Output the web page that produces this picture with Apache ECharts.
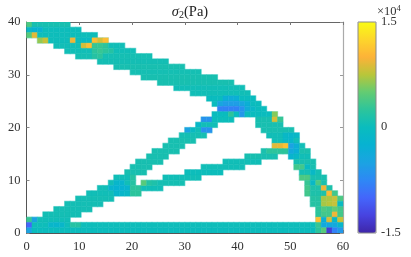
<!DOCTYPE html>
<html><head><meta charset="utf-8">
<style>html,body{margin:0;padding:0;background:#fff}#c{width:411px;height:257px}</style>
<script src="https://cdn.jsdelivr.net/npm/echarts@6/dist/echarts.min.js"></script>
</head><body><div id="c"></div>
<script>
const xCells = 58;
const xTicks = [0,10,20,30,40,50,60];
const yTicks = [0,10,20,30,40];
const barTicks = ['1.5','0','-1.5'];
// [row, firstCol, endCol, baseValue] (x10^4 Pa)
const topStrut = [[39,0,8,.1],[38,0,10,.02],[37,0,13,.03],[36,2,15,.03],[35,5,18,.05],[34,7,20,.05],[33,9,23,.08],
 [32,13,26,.07],[31,16,29,.1],[30,19,32,.08],[29,21,35,.1],[28,24,38,.1],[27,27,40,.05],[26,30,41,.05],[25,33,42,.0],
 [24,34,43,.0],[23,35,44,.0],[22,34,46,.0],[21,42,47,.1],[20,42,47,.1]];
const rightStrut = [[19,43,49,.1],[18,44,50,.05],[17,45,50,.05],[16,45,51,.05],[15,43,52,.12],[14,48,52,.05],[13,49,53,.1],
 [12,49,53,.1],[11,50,54,.08],[10,50,55,.1],[9,51,55,.12],[8,51,56,.15],[7,51,57,.15],[6,52,58,.2],[5,52,58,.2],
 [4,53,58,.25],[3,53,58,.25],[2,53,58,.25]];
const diagonal = [[21,32,38,.02],[20,31,35,.05],[19,29,34,.05],[18,28,33,.08],[17,26,31,.1],[16,25,29,.1],[15,23,28,.1],
 [14,22,26,.1],[13,20,25,.1],[12,19,23,.1],[11,18,22,.1],[10,16,20,.05],[9,15,20,.05],[8,13,25,.05],[7,11,21,.05],
 [6,9,16,.07],[5,7,14,.07],[4,5,12,.07],[3,3,10,.07],[2,0,8,.05]];
const lowerStrut = [[14,40,46,.1],[13,36,43,.05],[12,32,40,.05],[11,29,36,.02],[10,25,32,.05],[9,21,29,.08]];
const bottomChord = [[1,0,58,.03],[0,0,58,.01]];
// [col, row, value]
const cellOverrides = [[0,39,.4],[0,38,-.1],[1,38,-.22],[2,38,-.2],[0,37,.45],[1,37,.9],[2,36,.65],[3,36,.8],[8,36,.95],
 [10,36,-.05],[11,36,-.05],[12,36,1.08],[13,36,.85],[14,36,1.08],[10,35,.85],[11,35,1.08],[12,35,.3],[13,35,.3],[14,35,.25],
 [12,34,.25],[13,34,.3],[14,34,.25],[15,34,.2],[12,33,.2],[13,33,.25],
 [36,25,-.3],[37,25,-.35],[38,25,-.3],[35,24,-.45],[36,24,-.55],[37,24,-.55],[38,24,-.55],[39,24,-.45],[40,24,-.3],
 [35,23,-.8],[36,23,-.8],[37,23,-.8],[38,23,-.8],[39,23,-.65],[40,23,-.35],[41,23,-.1],[39,22,-.6],[37,22,.25],[45,22,.6],
 [45,21,.85],[46,21,.3],[32,21,-.65],[33,21,-.65],[29,19,-.5],[30,19,-.05],[32,19,-.65],[33,19,-.65],[31,20,-.1],
 [47,18,-.1],[48,18,-.15],[49,18,-.1],[47,17,-.1],[48,17,-.15],[45,16,.9],[46,16,.92],[47,16,1.1],[48,16,-.5],[49,16,-.3],
 [48,15,-.4],[49,15,-.3],[44,15,.25],[45,15,.25],[46,15,.25],[47,15,.25],[48,14,-.2],[49,14,-.1],
 [49,12,.35],[50,12,.35],[51,12,-.05],[52,11,-.1],[50,10,.4],[51,10,.4],[51,9,.3],[52,9,-.1],[53,9,.4],
 [51,8,.35],[54,8,.95],[51,7,.35],[55,7,1.05],[56,7,.35],[54,6,.7],[55,6,.72],[56,6,.8],[57,6,.4],
 [54,5,.7],[55,5,.75],[56,5,.8],[57,5,-.05],[54,4,.4],[55,4,.35],[56,4,.5],[57,4,.35],[56,3,.95],[54,3,.35],[55,3,.35],[57,3,.35],
 [53,2,1.1],[54,2,-.3],[55,2,.85],[56,2,-.1],[57,2,.8],[53,1,.3],[54,1,-.4],[55,1,-.42],[56,1,-.4],[57,1,-.15],
 [53,0,.25],[54,0,.45],[55,0,-1.3],[56,0,-.8],[57,0,-.6],
 [0,2,.3],[1,2,-.5],[0,1,-1.0],[4,1,-.15],[5,1,-.18],[6,1,-.15],[8,1,.2],[9,1,.2],[0,0,-.5],
 [19,10,.2],[16,9,-.15],[17,9,-.2],[18,9,.05],[19,9,.2],[15,8,-.2],[16,8,-.25],[17,8,-.25],[18,8,-.2],[19,8,.25],[20,8,.25],
 [16,7,-.15],[17,7,-.15],[18,7,-.1],[19,7,.25],[20,7,.25],[21,9,.45],[22,9,.2],[23,9,.15]];

const parula = ['#3e26a8','#4743e0','#4466fb','#2e88f5','#1ba3e2','#07b2d2','#0abcbe','#2cc49c','#62cc73','#b8c63a','#fdb238','#fdd62b','#f9fb15'];

const grid = new Map();
[topStrut, rightStrut, diagonal, lowerStrut, bottomChord].forEach(list => list.forEach(([r,a,b,v]) => {
  for (let c=a;c<b;c++) grid.set(c+'_'+r, [c,r,v]);
}));
cellOverrides.forEach(([c,r,v]) => grid.set(c+'_'+r,[c,r,v]));
const cw = 60/xCells;
const cells = [...grid.values()].map(([c,r,v]) => [c*cw,(c+1)*cw,r,r+1,v]);

const serif = '"Liberation Serif","DejaVu Serif",serif';
const chart = echarts.init(document.getElementById('c'),null,{renderer:'canvas'});
const lab = {fontFamily:serif,fontSize:12.5,color:'#333'};
const xBase = {type:'value',min:0,max:60,interval:10,splitLine:{show:false}};
const yBase = {type:'value',min:0,max:40,interval:10,splitLine:{show:false}};
const cellBox = (api) => {
  const p0=api.coord([api.value(0),api.value(3)]), p1=api.coord([api.value(1),api.value(2)]);
  return {x:p0[0],y:p0[1],width:p1[0]-p0[0],height:p1[1]-p0[1]};
};
chart.setOption({
  animation:false,
  title:{text:'{i|σ}{s|2}{t|(Pa)}',left:185,top:0,textAlign:'center',
    textStyle:{fontWeight:'normal',rich:{i:{fontFamily:serif,fontStyle:'italic',fontWeight:'normal',fontSize:14.5,color:'#222'},
      s:{fontFamily:serif,fontWeight:'normal',fontSize:10,color:'#222',verticalAlign:'bottom',padding:[5,0,0,0]},
      t:{fontFamily:serif,fontWeight:'normal',fontSize:14.5,color:'#222'}}}},
  grid:{left:26.5,right:68,top:22,bottom:24},
  xAxis:[
    {...xBase,position:'bottom',axisLine:{lineStyle:{color:'#555',width:1}},axisTick:{inside:true,length:3,lineStyle:{color:'#777'}},
     axisLabel:{...lab,margin:7,formatter:v=>xTicks.includes(v)?String(v):''}},
    {...xBase,position:'top',axisLine:{onZero:false,lineStyle:{color:'#666',width:1}},axisTick:{inside:true,length:3,lineStyle:{color:'#777'}},axisLabel:{show:false}}
  ],
  yAxis:[
    {...yBase,position:'left',axisLine:{show:true,lineStyle:{color:'#555',width:1}},axisTick:{show:true,inside:true,length:3,lineStyle:{color:'#888'}},
     axisLabel:{...lab,margin:6,formatter:v=>yTicks.includes(v)?String(v):''}},
    {...yBase,position:'right',axisLine:{show:true,onZero:false,lineStyle:{color:'#aaa',width:1.2}},axisTick:{show:true,inside:true,length:3,lineStyle:{color:'#999'}},axisLabel:{show:false}}
  ],
  visualMap:{type:'continuous',min:-1.5,max:1.5,dimension:4,seriesIndex:1,left:358,top:22,itemWidth:18,itemHeight:211,
    text:null,calculable:false,padding:0,showLabel:false,hoverLink:false,realtime:false,inRange:{color:parula}},
  graphic:[
    {type:'rect',shape:{x:358,y:22,width:18,height:211},style:{fill:'none',stroke:'#8a8a8a',lineWidth:1},z:100},
    {type:'text',x:381,y:15,style:{text:barTicks[0],fontFamily:serif,fontSize:12.5,fill:'#333'},z:100},
    {type:'text',x:381,y:120,style:{text:barTicks[1],fontFamily:serif,fontSize:12.5,fill:'#333'},z:100},
    {type:'text',x:381,y:226,style:{text:barTicks[2],fontFamily:serif,fontSize:12.5,fill:'#333'},z:100},
    {type:'text',x:377,y:4,style:{text:'{a|×10}{b|4}',rich:{a:{fontFamily:serif,fontSize:12.5,fill:'#333'},b:{fontFamily:serif,fontSize:8.5,fill:'#333',verticalAlign:'top',padding:[0,0,6,0]}}},z:100}
  ],
  series:[
   {type:'custom',coordinateSystem:'cartesian2d',xAxisIndex:0,yAxisIndex:0,clip:true,z:0,
    encode:{x:[0,1],y:[2,3]},data:cells,silent:true,
    renderItem:(params,api)=>{
      const b=cellBox(api);
      return {type:'rect',shape:{x:b.x-.7,y:b.y-.7,width:b.width+1.4,height:b.height+1.4},style:{fill:'#b9ecea'}};
    }},
   {type:'custom',coordinateSystem:'cartesian2d',xAxisIndex:0,yAxisIndex:0,clip:true,z:1,
    encode:{x:[0,1],y:[2,3]},data:cells,silent:true,
    renderItem:(params,api)=>{
      const c=api.visual('color');
      return {type:'rect',shape:cellBox(api),style:{fill:c,stroke:c,lineWidth:.4}};
    }}]
});
</script></body></html>
